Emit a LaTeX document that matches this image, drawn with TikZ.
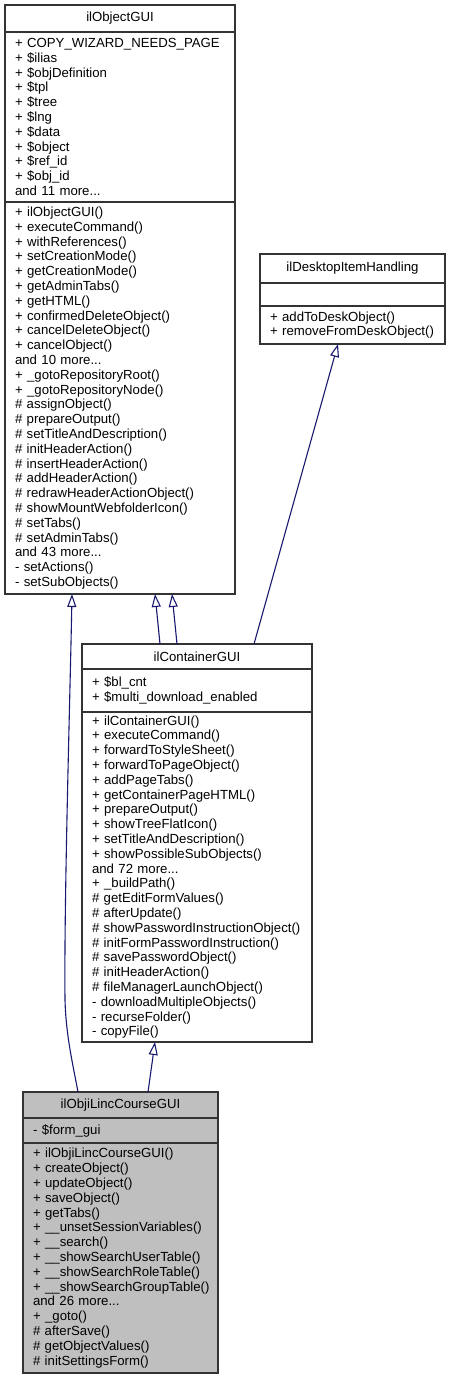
\documentclass[tikz,border=0pt]{standalone}
\usepackage{fontspec}
\setmainfont{Liberation Sans}
\usetikzlibrary{positioning,arrows.meta,calc}
\definecolor{edgeblue}{HTML}{191970}
\definecolor{selgray}{HTML}{BFBFBF}
\hyphenpenalty=10000
\exhyphenpenalty=10000
\begin{document}
\begin{tikzpicture}[x=1pt, y=-1pt, >={Triangle[open,length=13pt,width=9pt]},
  every node/.style={draw=black!80, line width=1.2pt, fill=white, outer sep=0pt,
    font=\fontsize{13.2}{14.8}\selectfont},
  head/.style={anchor=north west, inner sep=0pt},
  part/.style={align=left, inner xsep=10pt, inner ysep=1pt},
  inherit/.style={->, draw=edgeblue, line width=1.1pt}]
\useasboundingbox (0,0) rectangle (450,1380);
% base class
\node[head, minimum width=230pt, minimum height=27pt] (objgui) at (5,5) {ilObjectGUI};
\node[part, text width=210pt, minimum height=170pt, below=0pt of objgui] (objgui-attr) {+ COPY\_WIZARD\_NEEDS\_PAGE\\+ \$ilias\\+ \$objDefinition\\+ \$tpl\\+ \$tree\\+ \$lng\\+ \$data\\+ \$object\\+ \$ref\_id\\+ \$obj\_id\\and 11 more...};
\node[part, text width=210pt, minimum height=392pt, below=0pt of objgui-attr] (objgui-ops) {+ ilObjectGUI()\\+ executeCommand()\\+ withReferences()\\+ setCreationMode()\\+ getCreationMode()\\+ getAdminTabs()\\+ getHTML()\\+ confirmedDeleteObject()\\+ cancelDeleteObject()\\+ cancelObject()\\and 10 more...\\+ \_gotoRepositoryRoot()\\+ \_gotoRepositoryNode()\\\# assignObject()\\\# prepareOutput()\\\# setTitleAndDescription()\\\# initHeaderAction()\\\# insertHeaderAction()\\\# addHeaderAction()\\\# redrawHeaderActionObject()\\\# showMountWebfolderIcon()\\\# setTabs()\\\# setAdminTabs()\\and 43 more...\\- setActions()\\- setSubObjects()};
% interface
\node[head, minimum width=185pt, minimum height=29pt] (desk) at (260,254) {ilDesktopItemHandling};
\node[part, text width=165pt, minimum height=23pt, below=0pt of desk] (desk-attr) {};
\node[part, text width=165pt, minimum height=38pt, below=0pt of desk-attr] (desk-ops) {+ addToDeskObject()\\+ removeFromDeskObject()};
% container
\node[head, minimum width=230pt, minimum height=25pt] (cont) at (82,644) {ilContainerGUI};
\node[part, text width=210pt, minimum height=43pt, below=0pt of cont] (cont-attr) {+ \$bl\_cnt\\+ \$multi\_download\_enabled};
\node[part, text width=210pt, minimum height=330pt, below=0pt of cont-attr] (cont-ops) {+ ilContainerGUI()\\+ executeCommand()\\+ forwardToStyleSheet()\\+ forwardToPageObject()\\+ addPageTabs()\\+ getContainerPageHTML()\\+ prepareOutput()\\+ showTreeFlatIcon()\\+ setTitleAndDescription()\\+ showPossibleSubObjects()\\and 72 more...\\+ \_buildPath()\\\# getEditFormValues()\\\# afterUpdate()\\\# showPasswordInstructionObject()\\\# initFormPasswordInstruction()\\\# savePasswordObject()\\\# initHeaderAction()\\\# fileManagerLaunchObject()\\- downloadMultipleObjects()\\- recurseFolder()\\- copyFile()};
% selected class
\node[head, fill=selgray, minimum width=195pt, minimum height=26pt] (linc) at (23,1092) {ilObjiLincCourseGUI};
\node[part, fill=selgray, text width=175pt, minimum height=25pt, below=0pt of linc] (linc-attr) {- \$form\_gui};
\node[part, fill=selgray, text width=175pt, minimum height=230pt, below=0pt of linc-attr] (linc-ops) {+ ilObjiLincCourseGUI()\\+ createObject()\\+ updateObject()\\+ saveObject()\\+ getTabs()\\+~\_\_unsetSessionVariables()\\+ \_\_search()\\+~\_\_showSearchUserTable()\\+~\_\_showSearchRoleTable()\\+~\_\_showSearchGroupTable()\\and 26 more...\\+ \_goto()\\\# afterSave()\\\# getObjectValues()\\\# initSettingsForm()};
% inheritance
\draw[inherit] ($(cont.north west)+(78,0)$) -- ($(objgui-ops.south west)+(150,0)$);
\draw[inherit] ($(cont.north west)+(95,0)$) -- ($(objgui-ops.south west)+(167,0)$);
\draw[inherit] ($(cont.north west)+(172,0)$) -- ($(desk-ops.south west)+(78,0)$);
\draw[inherit] ($(linc.north west)+(125,0)$) -- ($(cont-ops.south west)+(73,0)$);
\draw[inherit] ($(linc.north west)+(55,0)$) .. controls (72,1060) and (66,1035) .. (65,1000)
  .. controls (64,900) and (70,700) .. ($(objgui-ops.south west)+(67,0)$);
\end{tikzpicture}
\end{document}
